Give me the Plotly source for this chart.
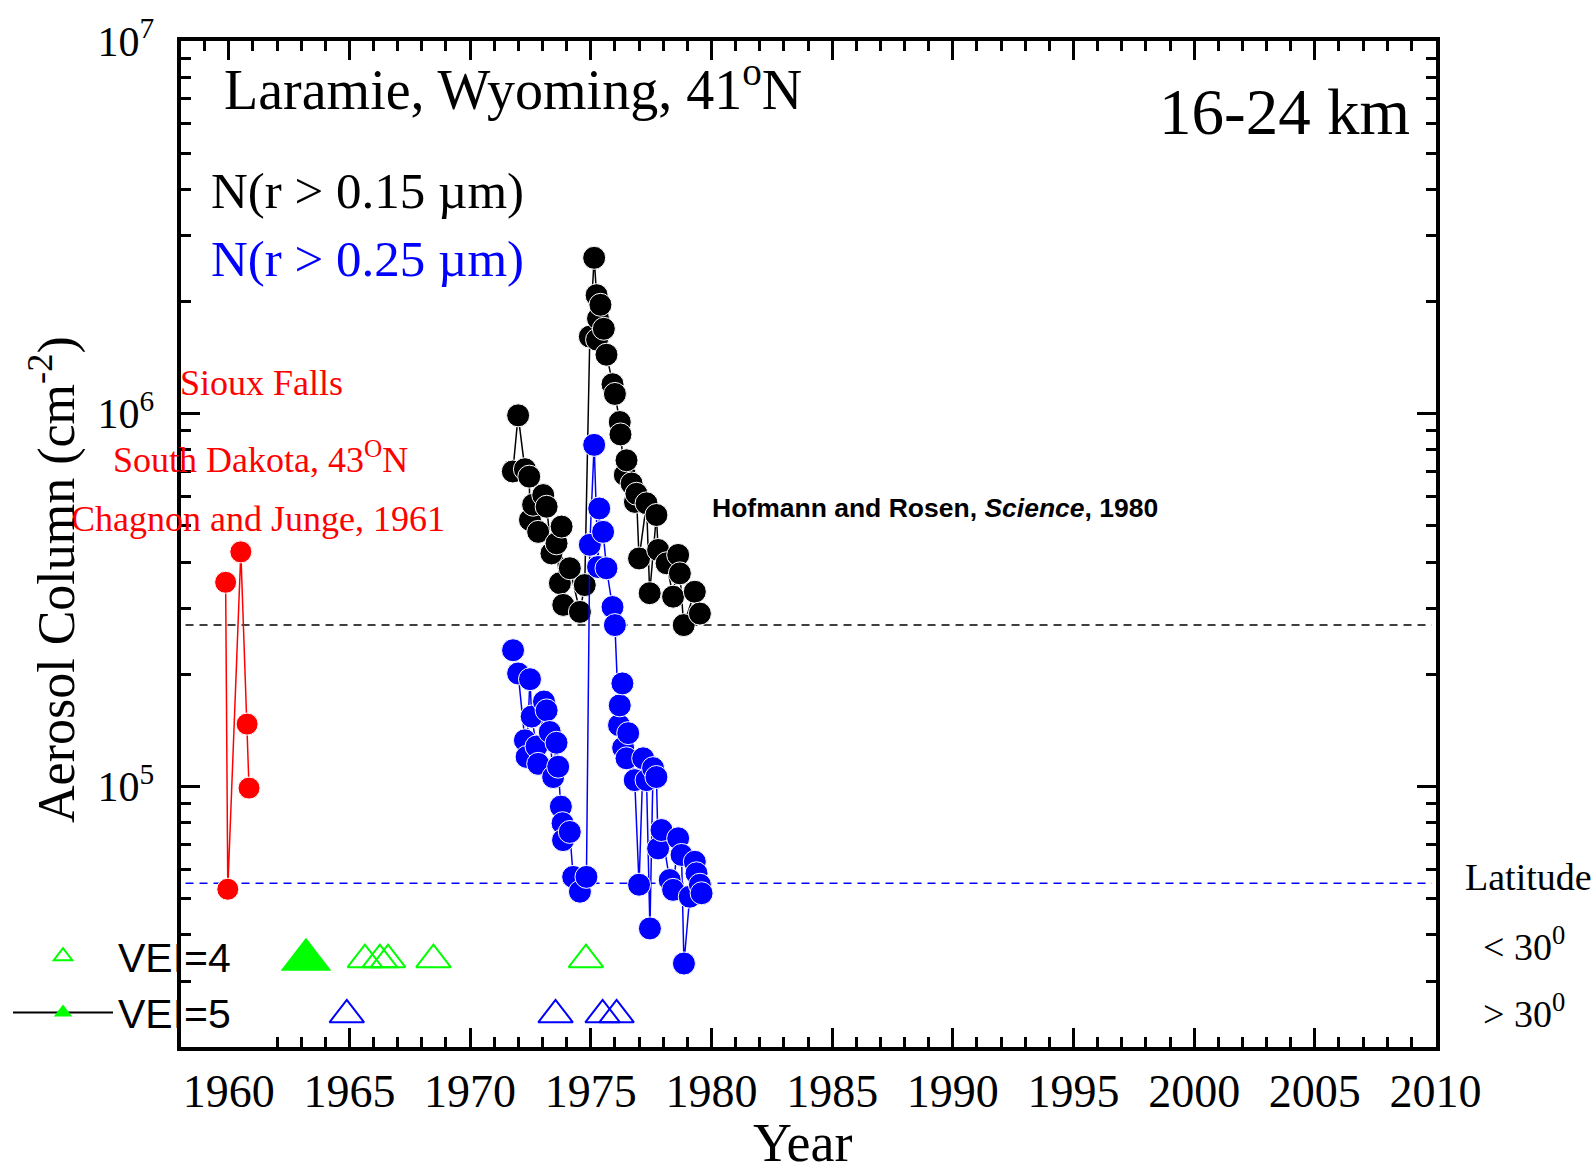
import plotly.graph_objects as go

W, H = 1594, 1174

# ---------------- data ----------------
# Sioux Falls, South Dakota (Chagnon and Junge, 1961)
sioux_year = [1959.87, 1959.96, 1960.50, 1960.76, 1960.84]
sioux_n015 = [3.53e5, 5.3e4, 4.26e5, 1.47e5, 9.9e4]

# Laramie, Wyoming N(r > 0.15 um)
laramie_year_015 = [1971.77, 1971.99, 1972.27, 1972.45, 1972.48, 1972.61, 1972.82, 1973.03,
                    1973.17, 1973.37, 1973.58, 1973.72, 1973.79, 1973.86, 1974.13, 1974.55,
                    1974.75, 1974.96, 1975.14, 1975.24, 1975.26, 1975.30, 1975.40, 1975.54,
                    1975.65, 1975.90, 1976.00, 1976.20, 1976.23, 1976.41, 1976.48, 1976.69,
                    1976.83, 1976.89, 1977.00, 1977.31, 1977.44, 1977.72, 1977.79, 1978.14,
                    1978.41, 1978.62, 1978.69, 1978.85, 1979.31, 1979.52]
laramie_n015 = [7.0e5, 9.9e5, 7.1e5, 6.78e5, 5.19e5, 5.7e5, 4.82e5, 6.05e5,
                5.63e5, 4.22e5, 4.49e5, 3.51e5, 4.98e5, 3.07e5, 3.85e5, 2.94e5,
                3.47e5, 1.61e6, 2.62e6, 2.08e6, 1.58e6, 1.80e6, 1.96e6, 1.69e6,
                1.44e6, 1.20e6, 1.13e6, 9.5e5, 8.8e5, 6.85e5, 7.5e5, 6.5e5,
                5.8e5, 6.1e5, 4.09e5, 5.75e5, 3.30e5, 5.35e5, 4.31e5, 3.97e5,
                3.23e5, 4.18e5, 3.73e5, 2.71e5, 3.33e5, 2.91e5]

# Laramie, Wyoming N(r > 0.25 um)
laramie_year_025 = [1971.78, 1971.99, 1972.27, 1972.34, 1972.48, 1972.55, 1972.75, 1972.82,
                    1973.06, 1973.17, 1973.30, 1973.44, 1973.58, 1973.65, 1973.76, 1973.83,
                    1973.85, 1974.13, 1974.27, 1974.55, 1974.82, 1974.96, 1975.14, 1975.30,
                    1975.35, 1975.51, 1975.65, 1975.90, 1976.00, 1976.17, 1976.20, 1976.31,
                    1976.34, 1976.48, 1976.55, 1976.82, 1977.00, 1977.17, 1977.31, 1977.45,
                    1977.58, 1977.72, 1977.79, 1977.93, 1978.27, 1978.41, 1978.62, 1978.76,
                    1978.86, 1979.10, 1979.31, 1979.38, 1979.52, 1979.59]
laramie_n025 = [2.32e5, 2.01e5, 1.33e5, 1.20e5, 1.94e5, 1.54e5, 1.28e5, 1.15e5,
                1.69e5, 1.60e5, 1.40e5, 1.06e5, 1.31e5, 1.13e5, 8.83e4, 7.97e4,
                7.18e4, 7.55e4, 5.72e4, 5.22e4, 5.72e4, 4.45e5, 8.25e5, 3.88e5,
                5.57e5, 4.82e5, 3.85e5, 3.03e5, 2.71e5, 1.46e5, 1.65e5, 1.89e5,
                1.27e5, 1.19e5, 1.39e5, 1.04e5, 5.45e4, 1.19e5, 1.04e5, 4.16e4,
                1.12e5, 1.06e5, 6.82e4, 7.64e4, 5.61e4, 5.28e4, 7.26e4, 6.55e4,
                3.35e4, 5.06e4, 6.28e4, 5.85e4, 5.45e4, 5.17e4]

# background levels (dashed lines)
background_n015 = 2.71e5
background_n025 = 5.5e4

# volcanic eruptions
vei4_year = [1965.64, 1966.26, 1966.60, 1968.48, 1974.80, 1964.89, 1973.54, 1975.49, 1976.07]
vei4_lat = ["<30", "<30", "<30", "<30", "<30", ">30", ">30", ">30", ">30"]
vei5_year = [1963.20]
vei5_lat = ["<30"]

x_tick_years = list(range(1960, 2011, 5))
y_tick_vals = [1e5, 1e6, 1e7]
y_tick_text = ["10<sup>5</sup>", "10<sup>6</sup>", "10<sup>7</sup>"]

# ---------------- styling helpers ----------------
LAT_ROW = {"<30": 3.43e4, ">30": 2.44e4}
LAT_COLOR = {"<30": "#00ff00", ">30": "#0000ff"}
SERIF = "Liberation Serif"
SANS = "Liberation Sans"


def px(x):
    return x / W


def py(y):
    return 1 - y / H


x_minor_bottom = [y for y in range(1962, 2010) if y % 5]
x_minor_top = [y for y in range(1959, 2010) if y % 5]
y_minor = [m * 10 ** e for e in (4, 5, 6) for m in range(2, 10)]

fig = go.Figure()

fig.add_trace(go.Scatter(
    x=laramie_year_015, y=laramie_n015, mode="lines+markers",
    line=dict(color="black", width=1.5),
    marker=dict(color="black", size=23, line=dict(color="white", width=1)),
    showlegend=False, name="N(r > 0.15 µm)"))

fig.add_trace(go.Scatter(
    x=laramie_year_025, y=laramie_n025, mode="lines+markers",
    line=dict(color="#0000ff", width=1.5),
    marker=dict(color="#0000ff", size=23, line=dict(color="white", width=1)),
    showlegend=False, name="N(r > 0.25 µm)"))

fig.add_trace(go.Scatter(
    x=sioux_year, y=sioux_n015, mode="lines+markers",
    line=dict(color="#ff0000", width=1.5),
    marker=dict(color="#ff0000", size=22, line=dict(color="white", width=1)),
    showlegend=False, name="Sioux Falls"))

fig.add_trace(go.Scatter(
    x=vei4_year, y=[LAT_ROW[l] for l in vei4_lat], mode="markers",
    marker=dict(symbol="triangle-up-open", size=30,
                color=[LAT_COLOR[l] for l in vei4_lat],
                line=dict(width=2)),
    name="VEI=4"))

fig.add_trace(go.Scatter(
    x=vei5_year, y=[LAT_ROW[l] for l in vei5_lat], mode="lines+markers",
    line=dict(color="black", width=2),
    marker=dict(symbol="triangle-up", size=44,
                color=[LAT_COLOR[l] for l in vei5_lat]),
    name="VEI=5"))

# empty traces so that the tick-only frame axes get drawn
for xa, ya in (("x2", "y"), ("x3", "y"), ("x", "y2")):
    fig.add_trace(go.Scatter(x=[], y=[], xaxis=xa, yaxis=ya, showlegend=False,
                             hoverinfo="skip"))

# dashed background levels
for val, col in ((background_n015, "black"), (background_n025, "#0000ff")):
    fig.add_shape(type="line", xref="x domain", yref="y", x0=0.004, x1=0.997,
                  y0=val, y1=val, layer="below",
                  line=dict(color=col, width=1.5, dash="8px,6px"))

annotations = [
    dict(text="Laramie, Wyoming, 41<sup>o</sup>N", x=px(222), y=py(86),
         xanchor="left", yanchor="middle", font=dict(family=SERIF, size=56, color="black")),
    dict(text="16-24 km", x=px(1412), y=py(112), xanchor="right", yanchor="middle",
         font=dict(family=SERIF, size=65, color="black")),
    dict(text="N(r > 0.15 µm)", x=px(209), y=py(191), xanchor="left", yanchor="middle",
         font=dict(family=SERIF, size=51, color="black")),
    dict(text="N(r > 0.25 µm)", x=px(209), y=py(259), xanchor="left", yanchor="middle",
         font=dict(family=SERIF, size=51, color="#0000ff")),
    dict(text="Sioux Falls", x=px(178), y=py(383), xanchor="left", yanchor="middle",
         font=dict(family=SERIF, size=36, color="#ff0000")),
    dict(text="South Dakota, 43<sup>O</sup>N", x=px(111), y=py(458), xanchor="left",
         yanchor="middle", font=dict(family=SERIF, size=36, color="#ff0000")),
    dict(text="Chagnon and Junge, 1961", x=px(69), y=py(519), xanchor="left",
         yanchor="middle", font=dict(family=SERIF, size=36, color="#ff0000")),
    dict(text="<b>Hofmann and Rosen, <i>Science</i>, 1980</b>", x=px(710), y=py(508),
         xanchor="left", yanchor="middle", font=dict(family=SANS, size=26.5, color="black")),
    dict(text="Latitude", x=px(1463), y=py(877), xanchor="left", yanchor="middle",
         font=dict(family=SERIF, size=38, color="black")),
    dict(text="< 30<sup>0</sup>", x=px(1481), y=py(944), xanchor="left", yanchor="middle",
         font=dict(family=SERIF, size=38, color="black")),
    dict(text="> 30<sup>0</sup>", x=px(1481), y=py(1011), xanchor="left", yanchor="middle",
         font=dict(family=SERIF, size=38, color="black")),
    dict(text="Aerosol Column (cm<sup>-2</sup>)", x=px(53), y=py(580), textangle=-90,
         xanchor="center", yanchor="middle", font=dict(family=SERIF, size=52, color="black")),
    dict(text="Year", x=px(803), y=0, xanchor="center", yanchor="bottom", borderpad=0,
         font=dict(family=SERIF, size=54, color="black")),
]
for a in annotations:
    a.update(xref="paper", yref="paper", showarrow=False)

x_dom = [px(180.5), px(1435.5)]
y_dom = [py(1047), py(41)]
y_range = [4.30103, 7]

fig.update_layout(
    width=W, height=H,
    margin=dict(l=0, r=0, t=0, b=0, autoexpand=False),
    paper_bgcolor="white", plot_bgcolor="white",
    annotations=annotations,
    legend=dict(x=px(8), y=py(923), xanchor="left", yanchor="top",
                font=dict(family=SANS, size=41, color="black"),
                bgcolor="rgba(0,0,0,0)", itemwidth=100, traceorder="normal"),
    xaxis=dict(domain=x_dom, range=[1958, 2010], tickmode="array",
               tickvals=x_tick_years, ticktext=[str(v) for v in x_tick_years],
               ticks="", showline=True, linewidth=4, linecolor="black", mirror=True,
               showgrid=False, zeroline=False, ticklabelstandoff=1,
               tickfont=dict(family=SERIF, size=46, color="black")),
    xaxis2=dict(overlaying="x", anchor="y", side="bottom", range=[1958, 2010],
                tickmode="array", tickvals=x_tick_years[1:], ticks="inside",
                ticklen=19, tickwidth=3, tickcolor="black", showticklabels=False,
                showline=False, showgrid=False, zeroline=False,
                minor=dict(tickmode="array", tickvals=x_minor_bottom, ticks="inside",
                           ticklen=10, tickwidth=3, tickcolor="black", showgrid=False)),
    xaxis3=dict(overlaying="x", anchor="y", side="top", range=[1958, 2010],
                tickmode="array", tickvals=x_tick_years, ticks="inside",
                ticklen=19, tickwidth=3, tickcolor="black", showticklabels=False,
                showline=False, showgrid=False, zeroline=False,
                minor=dict(tickmode="array", tickvals=x_minor_top, ticks="inside",
                           ticklen=10, tickwidth=3, tickcolor="black", showgrid=False)),
    yaxis=dict(domain=y_dom, type="log", range=y_range, tickmode="array",
               tickvals=y_tick_vals, ticktext=y_tick_text, ticks="inside",
               ticklen=19, tickwidth=3, tickcolor="black",
               showline=True, linewidth=4, linecolor="black", mirror=True,
               showgrid=False, zeroline=False, ticklabelstandoff=14,
               tickfont=dict(family=SERIF, size=42, color="black"),
               minor=dict(tickmode="array", tickvals=y_minor, ticks="inside",
                          ticklen=10, tickwidth=3, tickcolor="black", showgrid=False)),
    yaxis2=dict(overlaying="y", anchor="x", side="right", type="log", range=y_range,
                tickmode="array", tickvals=y_tick_vals, ticks="inside",
                ticklen=19, tickwidth=3, tickcolor="black", showticklabels=False,
                showline=False, showgrid=False, zeroline=False,
                minor=dict(tickmode="array", tickvals=y_minor, ticks="inside",
                           ticklen=10, tickwidth=3, tickcolor="black", showgrid=False)),
)

fig.write_html("out.html")
